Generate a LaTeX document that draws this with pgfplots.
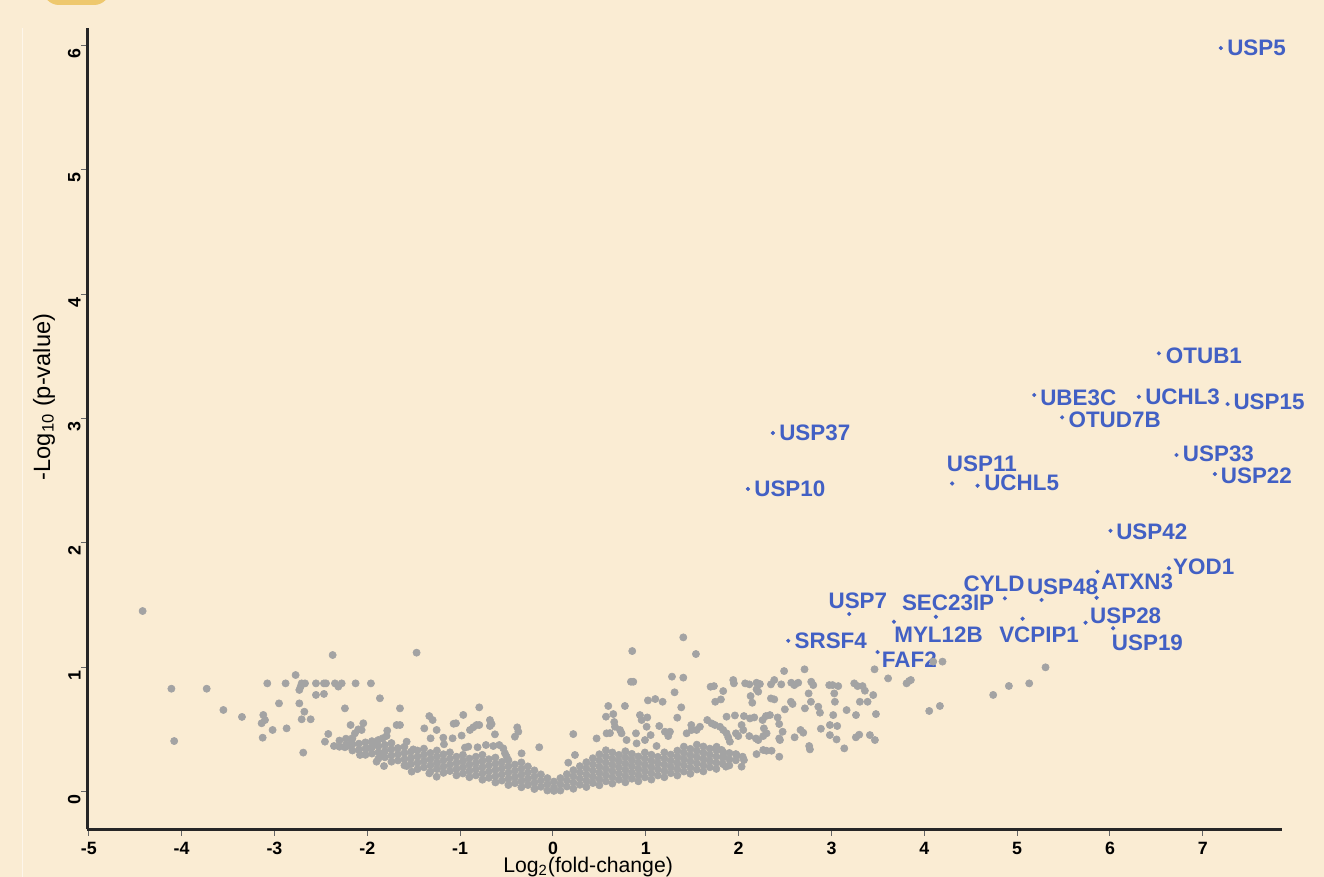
\documentclass[border=0pt]{standalone}
\usepackage{fontspec}
\setmainfont{Liberation Sans}
\usepackage{pgfplots}
\pgfplotsset{compat=1.18}
\definecolor{bg}{RGB}{250,236,211}
\definecolor{dotgray}{RGB}{163,163,163}
\definecolor{lblue}{RGB}{66,96,196}
\definecolor{gold}{RGB}{238,200,110}
\tikzset{lbl/.style={font=\fontsize{11.2bp}{13bp}\selectfont\bfseries, text=lblue, inner sep=0pt, anchor=west}}
\begin{document}
\begin{tikzpicture}
\path[use as bounding box] (0bp,0bp) rectangle (662bp,438.5bp);
\clip (0bp,0bp) rectangle (662bp,438.5bp);
\fill[bg] (0bp,0bp) rectangle (662bp,438.5bp);
\fill[gold, rounded corners=8bp] (21.5bp,436bp) rectangle (55bp,470bp);
\draw[white!55!bg, line width=0.6bp] (11.3bp,0bp) -- (11.3bp,424.5bp);
\begin{axis}[
  at={(43.65bp,23.85bp)}, anchor=south west,
  scale only axis, width=597.2bp, height=400.5bp,
  xmin=-5.016, xmax=7.85, ymin=-0.304, ymax=6.14,
  axis x line*=bottom, axis y line*=left,
  axis line style={line width=1.35bp, black!85},
  clip=false,
  xtick={-5,-4,-3,-2,-1,0,1,2,3,4,5,6,7},
  xticklabels={-5,-4,-3,-2,-1,0,1,2,3,4,5,6,7},
  ytick={0,1,2,3,4,5,6},
  yticklabels={0,1,2,3,4,5,6},
  tick align=outside, major tick length=3.2bp,
  tick style={line width=0.5bp, black!60},
  xticklabel style={font=\fontsize{8.9bp}{10bp}\selectfont\bfseries, inner sep=0pt, anchor=north, yshift=-3.0bp},
  yticklabel style={font=\fontsize{8.9bp}{10bp}\selectfont\bfseries, inner sep=0pt, rotate=90, anchor=south, xshift=-4bp},
  ylabel={-Log\textsubscript{10} (p-value)},
  ylabel style={at={(axis description cs:-0.0363,0.5397)}, anchor=center, font=\fontsize{11.8bp}{14bp}\selectfont},
  xlabel={Log\textsubscript{2}(fold-change)},
  xlabel style={at={(axis description cs:0.348,0)}, anchor=base west, yshift=-21.7bp, inner sep=0pt, font=\fontsize{10.6bp}{12bp}\selectfont},
]
% scattered gray points
\addplot[only marks, mark=*, color=dotgray, mark size=1.8bp, mark options={line width=0.3bp}] coordinates {
(-4.42,1.452)(-4.11,0.827)(-3.73,0.827)(-4.08,0.406)(-3.55,0.656)(-3.35,0.600)
(-2.373,1.098)(-1.469,1.117)(-2.772,0.937)(-3.077,0.870)(-2.880,0.870)(-2.707,0.870)
(-2.671,0.870)(-2.732,0.817)(-2.718,0.844)(-2.553,0.870)(-2.467,0.870)(-2.445,0.870)
(-2.348,0.870)(-2.312,0.844)(-2.276,0.870)(-2.553,0.777)(-2.467,0.785)(-2.126,0.870)
(-1.961,0.870)(-1.864,0.750)(-2.951,0.709)(-2.732,0.709)(-2.678,0.642)(-2.707,0.581)
(-2.610,0.581)(-2.241,0.669)(-1.648,0.669)(-3.120,0.616)(-3.102,0.575)(-3.138,0.549)
(-3.020,0.495)(-2.869,0.508)(-3.127,0.433)(-2.690,0.313)(-2.456,0.401)(-2.420,0.463)
(-2.359,0.366)(-2.180,0.535)(-2.043,0.549)(-2.097,0.500)(-2.133,0.468)(-2.169,0.414)
(-2.215,0.366)(-2.241,0.356)(-2.061,0.495)(-1.785,0.490)(-1.792,0.447)(-1.835,0.428)
(-2.079,0.294)(-2.007,0.347)(-1.943,0.388)(-1.882,0.414)(-1.846,0.294)(-1.900,0.240)
(-1.820,0.205)(-1.684,0.535)(-1.648,0.535)(-1.576,0.401)(-1.505,0.339)(-1.522,0.160)
(-1.576,0.205)(-1.386,0.508)(-1.332,0.607)(-1.296,0.575)(-1.253,0.495)(-1.318,0.428)
(-1.181,0.433)(-1.174,0.380)(-1.081,0.428)(-1.045,0.549)(-1.070,0.545)(-0.984,0.450)
(-0.966,0.616)(-0.794,0.677)(-0.894,0.495)(-0.858,0.517)(-0.823,0.535)(-0.794,0.535)
(-0.948,0.353)(-0.912,0.361)(-0.812,0.356)(-0.679,0.575)(-0.661,0.543)(-0.679,0.527)
(-0.625,0.460)(-0.722,0.374)(-0.643,0.366)(-0.578,0.374)(-0.535,0.347)(-0.517,0.307)
(-0.499,0.280)(-0.385,0.516)(-0.410,0.441)(-0.373,0.481)(-0.338,0.307)(-0.148,0.356)
(-1.332,0.146)(-1.253,0.119)
(0.219,0.462)(0.165,0.232)(0.237,0.294)
(1.404,1.240)(0.854,1.130)(1.540,1.106)(0.840,0.883)(0.865,0.883)(1.282,0.924)
(1.404,0.916)(1.310,0.798)(2.490,0.969)(2.710,0.983)(1.023,0.733)(1.102,0.744)
(1.181,0.722)(0.596,0.688)(0.775,0.688)(1.382,0.677)(0.571,0.602)(0.650,0.623)
(0.660,0.559)(0.937,0.615)(0.955,0.575)(1.016,0.596)(1.339,0.594)(1.145,0.527)
(1.490,0.535)(1.698,0.843)(1.734,0.848)(1.834,0.808)(1.942,0.897)(1.949,0.870)
(1.748,0.722)(1.809,0.741)(2.070,0.870)(2.115,0.862)(2.193,0.875)(2.229,0.865)
(2.193,0.822)(2.211,0.803)(2.129,0.768)(2.147,0.714)(2.348,0.862)(2.384,0.897)
(2.459,0.862)(2.567,0.875)(2.600,0.856)(2.642,0.875)(2.782,0.883)(2.804,0.856)
(2.754,0.789)(2.348,0.749)(2.384,0.741)(2.563,0.722)(2.581,0.704)(2.779,0.722)
(2.498,0.661)(2.714,0.669)(2.858,0.682)(2.976,0.856)(3.012,0.856)(3.073,0.848)
(3.030,0.789)(3.245,0.870)(3.281,0.848)(3.335,0.848)(3.360,0.811)(3.464,0.983)
(3.450,0.776)(3.037,0.722)(3.306,0.722)(3.389,0.722)(3.163,0.655)(3.264,0.615)
(3.479,0.623)(2.876,0.634)(3.019,0.615)(2.983,0.535)(3.062,0.527)(2.886,0.505)
(2.983,0.454)(3.055,0.419)(3.138,0.347)(3.263,0.436)(3.299,0.457)(3.414,0.454)
(3.468,0.414)(3.610,0.910)(2.760,0.366)(2.768,0.339)(2.603,0.436)(2.667,0.495)
(2.696,0.473)(2.445,0.414)(2.438,0.280)(2.265,0.334)(2.300,0.328)(2.355,0.328)
(2.193,0.301)(1.870,0.602)(1.960,0.612)(2.057,0.607)(2.122,0.588)(2.168,0.596)
(2.258,0.575)(2.294,0.607)(2.337,0.615)(2.420,0.596)(2.437,0.543)(2.474,0.481)
(2.437,0.427)(2.032,0.535)(2.050,0.495)(2.272,0.508)(2.301,0.468)(2.265,0.446)
(2.115,0.446)(2.186,0.427)(2.211,0.414)(1.971,0.468)(1.996,0.446)(1.978,0.293)
(2.043,0.280)(2.057,0.253)(2.032,0.200)(1.662,0.575)(1.709,0.548)(1.745,0.535)
(1.799,0.521)(1.834,0.495)(1.870,0.468)(1.888,0.436)(1.906,0.401)(1.583,0.521)
(1.547,0.495)(1.440,0.468)(1.494,0.495)(1.206,0.481)(1.242,0.446)(1.116,0.366)
(0.991,0.414)(0.901,0.387)(0.793,0.414)(0.722,0.495)(0.668,0.521)(0.578,0.468)
(0.470,0.427)(1.763,0.360)(1.817,0.334)(1.834,0.280)(1.863,0.200)
(0.894,0.468)(1.009,0.521)(1.052,0.454)(0.739,0.468)(0.614,0.470)(1.260,0.481)
(3.809,0.870)(3.837,0.889)(3.855,0.897)(4.096,1.045)(4.196,1.045)(4.053,0.648)
(4.168,0.688)(4.742,0.777)(4.911,0.849)(5.130,0.870)(5.306,0.999)
};
% dense band of gray points
\addplot[only marks, mark=*, color=dotgray, mark size=1.8bp, mark options={line width=0.3bp}] coordinates {
(-2.30,.36)(-2.30,.41)
(-2.23,.375)(-2.23,.425)
(-2.16,.33)(-2.16,.38)(-2.16,.43)
(-2.09,.335)(-2.09,.385)
(-2.02,.295)(-2.02,.345)(-2.02,.395)
(-1.95,.305)(-1.95,.355)(-1.95,.405)
(-1.88,.265)(-1.88,.315)(-1.88,.365)
(-1.81,.275)(-1.81,.325)(-1.81,.375)
(-1.74,.24)(-1.74,.29)(-1.74,.34)(-1.74,.39)
(-1.67,.25)(-1.67,.30)(-1.67,.35)
(-1.60,.21)(-1.60,.26)(-1.60,.31)(-1.60,.36)
(-1.53,.22)(-1.53,.27)(-1.53,.32)
(-1.46,.18)(-1.46,.23)(-1.46,.28)(-1.46,.33)
(-1.39,.195)(-1.39,.245)(-1.39,.295)(-1.39,.345)
(-1.32,.16)(-1.32,.21)(-1.32,.26)(-1.32,.31)
(-1.25,.18)(-1.25,.23)(-1.25,.28)(-1.25,.33)
(-1.18,.15)(-1.18,.20)(-1.18,.25)(-1.18,.30)
(-1.11,.165)(-1.11,.215)(-1.11,.265)(-1.11,.315)
(-1.04,.13)(-1.04,.18)(-1.04,.23)(-1.04,.28)
(-0.97,.145)(-0.97,.195)(-0.97,.245)(-0.97,.295)
(-0.90,.115)(-0.90,.165)(-0.90,.215)(-0.90,.265)
(-0.83,.13)(-0.83,.18)(-0.83,.23)(-0.83,.28)
(-0.76,.095)(-0.76,.145)(-0.76,.195)(-0.76,.245)(-0.76,.295)
(-0.69,.11)(-0.69,.16)(-0.69,.21)(-0.69,.26)
(-0.62,.073)(-0.62,.123)(-0.62,.173)(-0.62,.223)(-0.62,.273)
(-0.55,.088)(-0.55,.138)(-0.55,.188)(-0.55,.238)
(-0.48,.052)(-0.48,.102)(-0.48,.152)(-0.48,.202)(-0.48,.252)
(-0.41,.067)(-0.41,.117)(-0.41,.167)(-0.41,.217)
(-0.34,.034)(-0.34,.084)(-0.34,.134)(-0.34,.184)(-0.34,.234)
(-0.27,.052)(-0.27,.102)(-0.27,.152)(-0.27,.202)
(-0.20,.02)(-0.20,.07)(-0.20,.12)(-0.20,.17)
(-0.13,.038)(-0.13,.088)(-0.13,.138)
(-0.06,.008)(-0.06,.058)(-0.06,.108)
(0.01,.005)(0.01,.03)(0.01,.08)
(0.08,.008)(0.08,.058)(0.08,.108)
(0.15,.04)(0.15,.09)(0.15,.14)
(0.22,.022)(0.22,.072)(0.22,.122)(0.22,.172)
(0.29,.054)(0.29,.104)(0.29,.154)(0.29,.204)
(0.36,.036)(0.36,.086)(0.36,.136)(0.36,.186)(0.36,.236)
(0.43,.068)(0.43,.118)(0.43,.168)(0.43,.218)(0.43,.268)
(0.50,.05)(0.50,.10)(0.50,.15)(0.50,.20)(0.50,.25)(0.50,.30)
(0.57,.082)(0.57,.132)(0.57,.182)(0.57,.232)(0.57,.282)(0.57,.332)
(0.64,.064)(0.64,.114)(0.64,.164)(0.64,.214)(0.64,.264)(0.64,.314)
(0.71,.095)(0.71,.145)(0.71,.195)(0.71,.245)(0.71,.295)
(0.78,.074)(0.78,.124)(0.78,.174)(0.78,.224)(0.78,.274)(0.78,.324)
(0.85,.103)(0.85,.153)(0.85,.203)(0.85,.253)(0.85,.303)
(0.92,.082)(0.92,.132)(0.92,.182)(0.92,.232)(0.92,.282)
(0.99,.114)(0.99,.164)(0.99,.214)(0.99,.264)(0.99,.314)
(1.06,.096)(1.06,.146)(1.06,.196)(1.06,.246)(1.06,.296)
(1.13,.129)(1.13,.179)(1.13,.229)(1.13,.279)
(1.20,.115)(1.20,.165)(1.20,.215)(1.20,.265)(1.20,.315)
(1.27,.147)(1.27,.197)(1.27,.247)(1.27,.297)
(1.34,.129)(1.34,.179)(1.34,.229)(1.34,.279)(1.34,.329)
(1.41,.161)(1.41,.211)(1.41,.261)(1.41,.311)(1.41,.361)
(1.48,.143)(1.48,.193)(1.48,.243)(1.48,.293)(1.48,.343)
(1.55,.177)(1.55,.227)(1.55,.277)(1.55,.327)(1.55,.377)
(1.62,.162)(1.62,.212)(1.62,.262)(1.62,.312)(1.62,.362)
(1.69,.195)(1.69,.245)(1.69,.295)(1.69,.345)
(1.76,.182)(1.76,.232)(1.76,.282)(1.76,.332)
(1.83,.221)(1.83,.271)(1.83,.321)
(1.90,.21)(1.90,.26)(1.90,.31)
(1.97,.251)(1.97,.301)
};
% labelled (blue) points
\addplot[only marks, mark=*, color=lblue, mark size=0.95bp, mark options={line width=0.2bp}] coordinates {
(7.194,5.981)(6.527,3.525)(5.184,3.190)(6.311,3.176)(7.267,3.117)(5.485,3.010)
(2.369,2.884)(6.717,2.707)(7.130,2.554)(4.300,2.478)(4.574,2.460)(2.100,2.434)
(6.006,2.098)(6.634,1.796)(5.866,1.768)(4.868,1.554)(5.263,1.541)(5.856,1.559)
(3.191,1.428)(4.125,1.406)(3.673,1.366)(5.059,1.390)(5.737,1.358)(6.034,1.313)
(3.497,1.122)(2.534,1.213)
};
\node[lbl] at (axis cs:7.259,5.985) {USP5};
\node[lbl] at (axis cs:6.599,3.509) {OTUB1};
\node[lbl] at (axis cs:5.245,3.166) {UBE3C};
\node[lbl] at (axis cs:6.376,3.172) {UCHL3};
\node[lbl] at (axis cs:7.327,3.139) {USP15};
\node[lbl] at (axis cs:5.550,2.991) {OTUD7B};
\node[lbl] at (axis cs:2.434,2.884) {USP37};
\node[lbl] at (axis cs:6.782,2.714) {USP33};
\node[lbl] at (axis cs:7.191,2.536) {USP22};
\node[lbl] at (axis cs:4.240,2.640) {USP11};
\node[lbl] at (axis cs:4.642,2.483) {UCHL5};
\node[lbl] at (axis cs:2.165,2.434) {USP10};
\node[lbl] at (axis cs:6.064,2.088) {USP42};
\node[lbl] at (axis cs:6.677,1.804) {YOD1};
\node[lbl] at (axis cs:5.902,1.688) {ATXN3};
\node[lbl] at (axis cs:4.419,1.671) {CYLD};
\node[lbl] at (axis cs:5.102,1.648) {USP48};
\node[lbl] at (axis cs:2.965,1.534) {USP7};
\node[lbl] at (axis cs:3.756,1.518) {SEC23IP};
\node[lbl] at (axis cs:3.673,1.261) {MYL12B};
\node[lbl] at (axis cs:4.803,1.259) {VCPIP1};
\node[lbl] at (axis cs:5.783,1.410) {USP28};
\node[lbl] at (axis cs:6.017,1.199) {USP19};
\node[lbl] at (axis cs:3.540,1.058) {FAF2};
\node[lbl] at (axis cs:2.599,1.215) {SRSF4};
\end{axis}
\end{tikzpicture}
\end{document}
